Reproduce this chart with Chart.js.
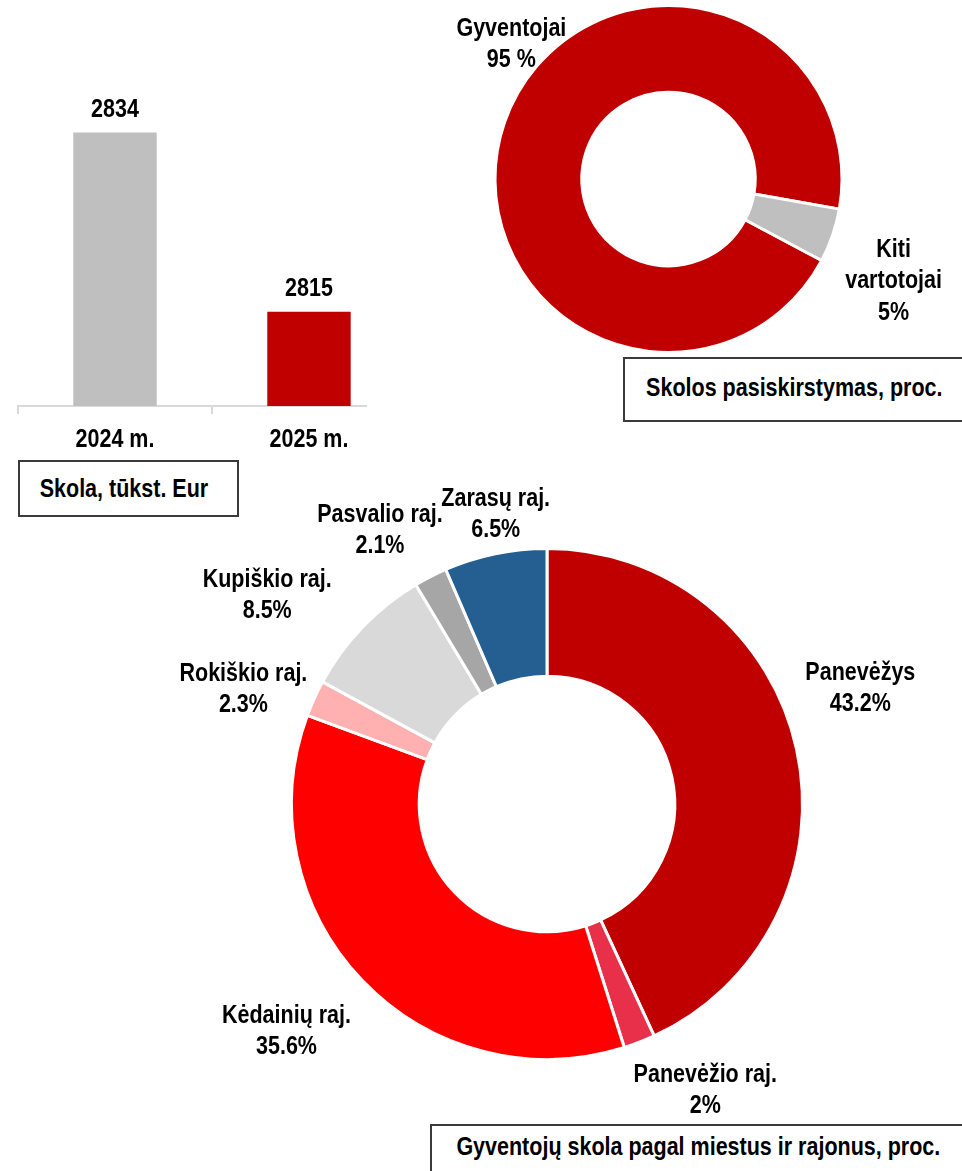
<!DOCTYPE html>
<html>
<head>
<meta charset="utf-8">
<script src="https://cdn.jsdelivr.net/npm/chart.js@4/dist/chart.umd.min.js"></script>
<style>
  html, body { margin: 0; padding: 0; background: #fff; overflow: hidden; }
  body { width: 962px; height: 1171px; position: relative;
         font-family: "Liberation Sans", Arial, sans-serif; font-weight: bold; }
  canvas { position: absolute; }
  #barWrap { position: absolute; left: 0; top: 0; width: 367px; height: 470px; overflow: hidden; }
  #barChart { left: 0; top: 0; }
  #shareChart { left: 440px; top: 0; }
  #townChart { left: 150px; top: 470px; }
  .box { position: absolute; border: 2px solid #3a3a3a; background: #fff; font-size: 25px;
         display: flex; justify-content: center; color: #000; box-sizing: border-box; white-space: nowrap; }
  .box span { display: inline-block; transform: scaleX(0.86); }
  #box1 { left: 18px; top: 460px; width: 221px; height: 57px; line-height: 53px; padding-right: 9px; }
  #box2 { left: 623px; top: 357px; width: 342px; height: 65px; line-height: 56px; }
  #box3 { left: 430px; top: 1124px; width: 536px; height: 80px; line-height: 40px; }
</style>
</head>
<body>
<div id="barWrap"><canvas id="barChart" width="420" height="470"></canvas></div>
<canvas id="shareChart" width="522" height="358"></canvas>
<canvas id="townChart" width="812" height="668"></canvas>
<div class="box" id="box1"><span>Skola, tūkst. Eur</span></div>
<div class="box" id="box2"><span>Skolos pasiskirstymas, proc.</span></div>
<div class="box" id="box3"><span>Gyventojų skola pagal miestus ir rajonus, proc.</span></div>
<script>
// skola pagal metus
const years = ['2024 m.', '2025 m.'];
const debt = [2834, 2815];

// skolos pasiskirstymas
const shareLabels = [['Gyventojai'], ['Kiti', 'vartotojai']];
const shareValues = [95, 5];
const shareSuffix = [' %', '%'];

// pagal miestus ir rajonus
const towns = ['Panevėžys', 'Panevėžio raj.', 'Kėdainių raj.', 'Rokiškio raj.', 'Kupiškio raj.', 'Pasvalio raj.', 'Zarasų raj.'];
const townValues = [43.2, 2, 35.6, 2.3, 8.5, 2.1, 6.5];

const FONT = '"Liberation Sans", Arial, sans-serif';
const FSIZE = 25;
const SX = 0.86; // siauresnis šriftas
Chart.defaults.font.family = FONT;
Chart.defaults.font.size = FSIZE;
Chart.defaults.font.weight = 'bold';
Chart.defaults.color = '#000';
Chart.defaults.animation = false;
Chart.defaults.plugins.legend.display = false;
Chart.defaults.plugins.tooltip.enabled = false;

// tekstas centruojamas pagal didžiųjų raidžių vidurį
function drawText(ctx, text, x, y) {
    ctx.save();
    ctx.translate(x, y);
    ctx.scale(SX, 1);
    ctx.font = 'bold ' + FSIZE + 'px ' + FONT;
    ctx.fillStyle = '#000';
    ctx.textAlign = 'center';
    ctx.textBaseline = 'alphabetic';
    ctx.fillText(text, 0, FSIZE * 0.36);
    ctx.restore();
}

// reikšmės virš stulpelių ir kategorijų pavadinimai
const barText = {
    id: 'barText',
    afterDraw(chart) {
        const ctx = chart.ctx;
        const meta = chart.getDatasetMeta(0);
        meta.data.forEach((bar, i) => {
            drawText(ctx, String(chart.data.datasets[0].data[i]), bar.x, bar.y - 25);
        });
        const xs = chart.scales.x;
        xs.ticks.forEach((t, i) => {
            drawText(ctx, xs.getLabelForValue(t.value), xs.getPixelForTick(i), chart.chartArea.bottom + 32);
        });
    }
};

// etiketės prie žiedo dalių
const sliceLabels = {
    id: 'sliceLabels',
    afterDatasetsDraw(chart, args, opts) {
        const ctx = chart.ctx;
        const meta = chart.getDatasetMeta(0);
        const data = chart.data.datasets[0].data;
        meta.data.forEach((arc, i) => {
            const p = opts.place[i];
            const a = (arc.startAngle + arc.endAngle) / 2 + p[0] * Math.PI / 180;
            const r = arc.outerRadius * p[1];
            const x = arc.x + Math.cos(a) * r;
            const y = arc.y + Math.sin(a) * r;
            const lines = opts.text(i, data[i]);
            const lh = 31.5;
            const y0 = y - (lines.length - 1) * lh / 2;
            lines.forEach((t, k) => drawText(ctx, t, x, y0 + k * lh));
        });
    }
};

new Chart(document.getElementById('barChart'), {
    type: 'bar',
    data: {
        labels: years,
        datasets: [{
            data: debt,
            backgroundColor: ['#BFBFBF', '#C00000'],
            barPercentage: 0.43,
            categoryPercentage: 1
        }]
    },
    options: {
        responsive: false,
        layout: { padding: { left: 18, right: 14, top: 76, bottom: 56 } },
        scales: {
            y: { display: false, min: 2805, max: 2840 },
            x: {
                offset: true,
                grid: { drawOnChartArea: false, color: '#D9D9D9', lineWidth: 2, tickLength: 8, offset: true },
                border: { color: '#D9D9D9', width: 2 },
                ticks: { display: false }
            }
        }
    },
    plugins: [barText]
});

new Chart(document.getElementById('shareChart'), {
    type: 'doughnut',
    data: {
        labels: shareLabels.map(l => l.join(' ')),
        datasets: [{
            data: shareValues,
            backgroundColor: ['#C00000', '#BFBFBF'],
            borderColor: '#fff',
            borderWidth: 3
        }]
    },
    options: {
        responsive: false,
        rotation: 118,
        cutout: '50%',
        radius: 173.5,
        layout: { padding: { left: 0, right: 65, top: 0, bottom: 0 } },
        plugins: {
            sliceLabels: {
                place: [[22, 1.2], [5, 1.42]],
                text: (i, v) => shareLabels[i].concat([v + shareSuffix[i]])
            }
        }
    },
    plugins: [sliceLabels]
});

new Chart(document.getElementById('townChart'), {
    type: 'doughnut',
    data: {
        labels: towns,
        datasets: [{
            data: townValues,
            backgroundColor: ['#C00000', '#E9304B', '#FF0000', '#FFB0B0', '#D9D9D9', '#A6A6A6', '#255E91'],
            borderColor: '#fff',
            borderWidth: 3
        }]
    },
    options: {
        responsive: false,
        cutout: '50%',
        radius: 255.5,
        layout: { padding: { left: 0, right: 18, top: 0, bottom: 0 } },
        plugins: {
            sliceLabels: {
                place: [[-8.2, 1.31], [-7.9, 1.274], [2.8, 1.348], [-3.4, 1.273], [-6.9, 1.37], [-4.1, 1.261], [1.7, 1.159]],
                text: (i, v) => [towns[i], v + '%']
            }
        }
    },
    plugins: [sliceLabels]
});
</script>
</body>
</html>
